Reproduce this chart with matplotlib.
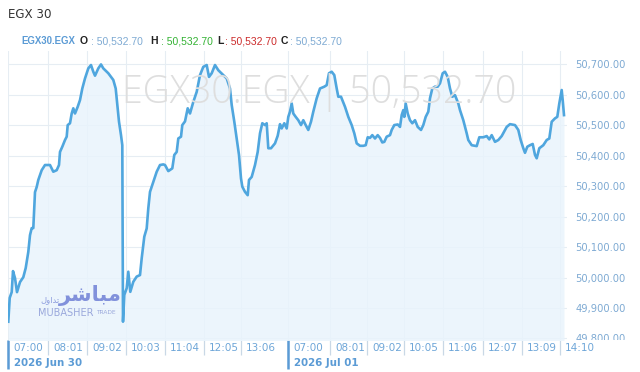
import matplotlib
matplotlib.use("Agg")
import matplotlib.pyplot as plt
import matplotlib.transforms as mtransforms

# ---- data (bar index along the session axis, index level) ----
bar_index = [0.3, 1.7, 3.7, 5, 7, 9, 12, 15.3, 17.7, 20.3, 22, 23.7, 25.3, 27, 28.7, 30.3,
             33.7, 37, 42, 45.3, 48.7, 51, 52, 54.3, 57, 58.7, 59.7, 62, 63.7, 65.3, 67,
             69.7, 72, 74.3, 77, 80.3, 83, 85.3, 87, 90.3, 93, 95.3, 100.3, 105.3, 107.7,
             109.7, 111, 113, 114.3, 115, 116.3, 118.7, 120.3, 122.3, 125.3, 128.7, 132,
             133.7, 136.3, 138.7, 140.3, 142, 145.3, 148.7, 152, 155.3, 157, 160.3, 164.3,
             166.3, 168.7, 170.3, 173, 174.3, 177, 179.7, 182, 185.3, 188.7, 192, 195.3,
             198.7, 201, 203.7, 207, 210.3, 215.3, 218.7, 222, 223.7, 226.3, 228.7, 231,
             233, 234.3, 237, 239.7, 241, 243.7, 247, 249.7, 252, 254.3, 257, 258.7, 260.3,
             263, 267, 269.7, 272, 273.7, 276.3, 278.7, 280.3, 282, 283.7, 285.3, 287.7,
             290.3, 293, 295.3, 297.7, 300.3, 303, 305.3, 308.7, 312, 316.3, 318.7, 321,
             323.7, 326.3, 328.7, 330.3, 333, 337, 340.3, 343.7, 346.3, 348.7, 352, 355.3,
             357.7, 359.7, 362, 364.3, 367, 369.7, 372, 374.3, 376.3, 378.7, 382, 383.7,
             386.3, 389.7, 392, 393.7, 395.3, 396.3, 397.7, 399.7, 402, 404.3, 407, 409.7,
             413, 415.3, 417.7, 420.3, 422, 424.3, 427, 429.7, 432, 434.7, 437, 439.7, 442,
             444.3, 447, 450.3, 452, 455.3, 458.7, 460.3, 463.7, 468.7, 471.3, 475.3, 478.7,
             481.3, 483.7, 487, 490.3, 493.7, 496, 498.7, 502, 507, 510.3, 512.7, 515.3,
             517, 519.3, 522, 524.7, 527, 528.7, 531.3, 535.3, 538.7, 541.3, 543.7, 547,
             549.3, 551.3, 553.7, 554.7, 556]
index_level = [49855, 49933, 49952, 50021, 49998, 49952, 49985, 50001, 50031, 50084, 50139,
               50162, 50162, 50280, 50297, 50320, 50352, 50369, 50369, 50347, 50352, 50369,
               50412, 50429, 50451, 50462, 50500, 50506, 50538, 50555, 50538, 50560, 50582,
               50620, 50653, 50686, 50697, 50675, 50662, 50686, 50699, 50686, 50670, 50648,
               50620, 50555, 50511, 50467, 50434, 49855, 49943, 49965, 50019, 49953, 49986,
               50003, 50008, 50063, 50134, 50161, 50227, 50281, 50314, 50347, 50369, 50371,
               50369, 50349, 50358, 50402, 50412, 50456, 50462, 50500, 50512, 50555, 50538,
               50576, 50609, 50664, 50691, 50697, 50658, 50670, 50697, 50680, 50664, 50653,
               50620, 50566, 50511, 50456, 50402, 50325, 50298, 50281, 50270, 50320, 50330,
               50369, 50412, 50473, 50506, 50500, 50506, 50424, 50424, 50440, 50465, 50503,
               50489, 50506, 50489, 50527, 50544, 50571, 50538, 50527, 50516, 50500, 50516,
               50500, 50484, 50511, 50544, 50588, 50620, 50626, 50631, 50670, 50675, 50664,
               50620, 50593, 50593, 50560, 50527, 50500, 50473, 50440, 50432, 50432, 50434,
               50460, 50458, 50467, 50456, 50467, 50458, 50443, 50445, 50462, 50467, 50484,
               50500, 50502, 50494, 50533, 50549, 50527, 50571, 50538, 50516, 50506, 50516,
               50494, 50484, 50500, 50527, 50544, 50588, 50620, 50626, 50626, 50637, 50670,
               50675, 50658, 50620, 50593, 50598, 50571, 50549, 50516, 50473, 50451, 50434,
               50431, 50460, 50460, 50464, 50453, 50467, 50445, 50451, 50464, 50478, 50494,
               50503, 50500, 50484, 50451, 50424, 50409, 50429, 50434, 50438, 50402, 50391,
               50424, 50434, 50451, 50456, 50511, 50522, 50527, 50571, 50615, 50582, 50532.70]

tick_index = [0, 40, 79, 118, 157, 196, 233, 280, 322, 359, 396, 435, 475, 514, 552]
tick_labels = ["07:00", "08:01", "09:02", "10:03", "11:04", "12:05", "13:06",
               "07:00", "08:01", "09:02", "10:05", "11:06", "12:07", "13:09", "14:10"]
day_index = [0, 280]
day_labels = ["2026 Jun 30", "2026 Jul 01"]
y_levels = [49800, 49900, 50000, 50100, 50200, 50300, 50400, 50500, 50600, 50700]

symbol = "EGX30.EGX"
title = "EGX 30"
ohlc_names = ["O", "H", "L", "C"]
ohlc_values = [50532.70, 50532.70, 50532.70, 50532.70]

# ---- figure ----
W, H = 640, 372
fig = plt.figure(figsize=(W / 100, H / 100), dpi=100)
fig.patch.set_facecolor("white")
L, R, T, B = 8, 567, 51, 340
ax = fig.add_axes([L / W, 1 - B / H, (R - L) / W, (B - T) / H])
ax.set_facecolor("white")

line_c = "#4fa6de"
ax.fill_between(bar_index, index_level, 49700, color="#e9f4fc", alpha=0.85, lw=0, zorder=1)
ax.plot(bar_index, index_level, color=line_c, lw=1.9, zorder=3, solid_joinstyle="round")

ax.set_xlim(0, 559)
ax.set_ylim(49795, 50743)

for s in ax.spines.values():
    s.set_visible(False)

ax.grid(True, color="#e6edf3", lw=0.8, zorder=0)
ax.set_axisbelow(True)

# y axis on right
ax.yaxis.tick_right()
ax.set_yticks(y_levels)
ax.set_yticklabels([f"{v:,.2f}" for v in y_levels])
ax.tick_params(axis="y", length=0, pad=6, labelsize=7.2, labelcolor="#7eaad3")

# x axis
ax.set_xticks(tick_index)
ax.set_xticklabels(tick_labels)
ax.tick_params(axis="x", which="major", direction="out", length=11, width=0.9,
               color="#c9d8e6", pad=-8.6, labelsize=7.5, labelcolor="#6ea6d8")
offset = mtransforms.ScaledTranslation(5 / 100, 0, fig.dpi_scale_trans)
for lab in ax.get_xticklabels():
    lab.set_horizontalalignment("left")
    lab.set_transform(lab.get_transform() + offset)

ax.xaxis.remove_overlapping_locs = False
ax.set_xticks(day_index, minor=True)
ax.tick_params(axis="x", which="minor", direction="out", length=21, width=1.8,
               color="#5b9bd5", labelbottom=False)

for xi, dl in zip(day_index, day_labels):
    ax.annotate(dl, xy=(xi, 0), xycoords=("data", "axes fraction"),
                xytext=(4.5, -16.5), textcoords="offset points",
                ha="left", va="center", fontsize=7.4, fontweight="bold", color="#5b9bd5")

# clip the right-hand value labels at the bottom of the plot (as in the original)
clip = mtransforms.TransformedBbox(mtransforms.Bbox([[R / W, 1 - B / H], [1, 1]]), fig.transFigure)
for lab in ax.get_yticklabels():
    lab.set_clip_box(clip)
    lab.set_clip_on(True)

# watermark
fig.text(319 / W, 1 - 93 / H, f"{symbol} | {ohlc_values[3]:,.2f}", ha="center", va="center",
         fontsize=27, family="Open Sans", fontweight="light", color="#dedede", zorder=2)

# logo watermark
fig.text(38 / W, 1 - 313 / H, "MUBASHER", fontsize=7, color="#9aa8dc", ha="left", va="center",
         family="DejaVu Sans")
fig.text(96 / W, 1 - 313 / H, "TRADE", fontsize=4.2, color="#9aa8dc", ha="left", va="center")
fig.text(122 / W, 1 - 296 / H, "\ufeae\ufeb7\ufe8e\ufe92\ufee3", fontsize=15, color="#6f80d6",
         ha="right", va="center", family="DejaVu Sans", fontweight="bold", alpha=0.85)
fig.text(60 / W, 1 - 300 / H, "\ufedd\ufeed\ufe8d\ufeaa\ufe97", fontsize=6, color="#7d8ed8",
         ha="right", va="center", family="DejaVu Sans", alpha=0.85)

# header
fig.text(8 / W, 1 - 15 / H, title, fontsize=8.6, color="#333333", ha="left", va="center")
hy = 1 - 41.5 / H
hf = "Liberation Sans"
fig.text(21 / W, hy, symbol, fontsize=6.9, fontweight="bold", color="#5b9bd5", ha="left",
         va="center", family=hf)
name_x = [80, 150, 217, 281]
val_x = [91, 161, 225, 290]
val_colors = ["#7eaad3", "#33b233", "#cc2b2b", "#7eaad3"]
for n, v, nx, vx, vc in zip(ohlc_names, ohlc_values, name_x, val_x, val_colors):
    fig.text(nx / W, hy, n, fontsize=7.5, fontweight="bold", color="#222222", ha="left",
             va="center", family=hf)
    fig.text(vx / W, hy, f": {v:,.2f}", fontsize=7.5, color=vc, ha="left", va="center", family=hf)

fig.savefig("out.png", dpi=100, facecolor="white")
